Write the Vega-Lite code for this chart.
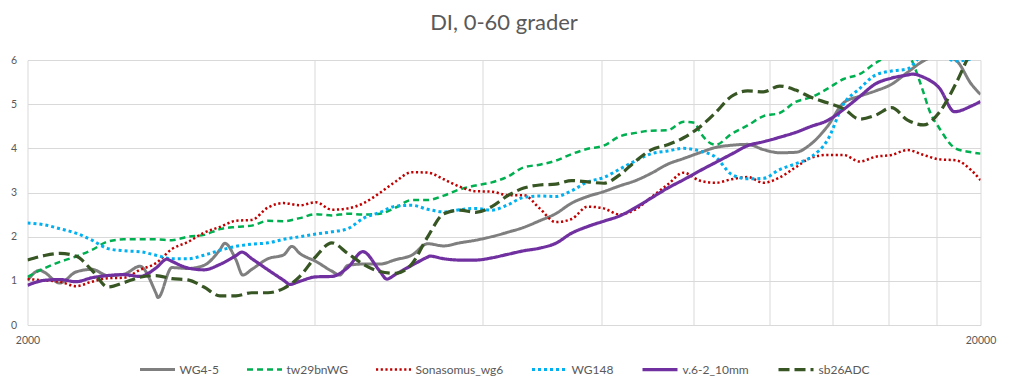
{
  "$schema": "https://vega.github.io/schema/vega-lite/v6.json",
  "width": 953,
  "height": 265,
  "autosize": "none",
  "padding": {"left": 27.5, "top": 60, "right": 31.5, "bottom": 65},
  "background": "white",
  "title": {"text": "DI, 0-60 grader", "font": "Lato", "fontSize": 22, "fontWeight": "normal", "color": "#595959", "anchor": "middle", "baseline": "alphabetic", "offset": 3},
  "config": {
    "view": {"stroke": null},
    "legend": {"layout": {"bottom": {"anchor": "middle"}}}
  },
  "data": {"values": [
    {"s":"WG4-5","f":2000,"v":1.01},{"s":"WG4-5","f":2061,"v":1.24},{"s":"WG4-5","f":2081,"v":1.2},{"s":"WG4-5","f":2163,"v":0.95},{"s":"WG4-5","f":2248,"v":1.2},{"s":"WG4-5","f":2337,"v":1.26},{"s":"WG4-5","f":2429,"v":1.12},{"s":"WG4-5","f":2525,"v":1.15},{"s":"WG4-5","f":2624,"v":1.33},{"s":"WG4-5","f":2728,"v":0.72},{"s":"WG4-5","f":2741,"v":0.62},{"s":"WG4-5","f":2835,"v":1.3},{"s":"WG4-5","f":2947,"v":1.28},{"s":"WG4-5","f":3063,"v":1.35},{"s":"WG4-5","f":3183,"v":1.7},{"s":"WG4-5","f":3222,"v":1.85},{"s":"WG4-5","f":3309,"v":1.48},{"s":"WG4-5","f":3365,"v":1.13},{"s":"WG4-5","f":3439,"v":1.26},{"s":"WG4-5","f":3575,"v":1.5},{"s":"WG4-5","f":3715,"v":1.59},{"s":"WG4-5","f":3788,"v":1.78},{"s":"WG4-5","f":3862,"v":1.62},{"s":"WG4-5","f":4014,"v":1.44},{"s":"WG4-5","f":4172,"v":1.22},{"s":"WG4-5","f":4254,"v":1.13},{"s":"WG4-5","f":4336,"v":1.35},{"s":"WG4-5","f":4507,"v":1.38},{"s":"WG4-5","f":4685,"v":1.38},{"s":"WG4-5","f":4869,"v":1.48},{"s":"WG4-5","f":5061,"v":1.58},{"s":"WG4-5","f":5261,"v":1.84},{"s":"WG4-5","f":5468,"v":1.79},{"s":"WG4-5","f":5683,"v":1.86},{"s":"WG4-5","f":5907,"v":1.92},{"s":"WG4-5","f":6140,"v":2.0},{"s":"WG4-5","f":6382,"v":2.1},{"s":"WG4-5","f":6633,"v":2.21},{"s":"WG4-5","f":6894,"v":2.36},{"s":"WG4-5","f":7166,"v":2.52},{"s":"WG4-5","f":7448,"v":2.76},{"s":"WG4-5","f":7742,"v":2.91},{"s":"WG4-5","f":8047,"v":3.02},{"s":"WG4-5","f":8364,"v":3.15},{"s":"WG4-5","f":8693,"v":3.27},{"s":"WG4-5","f":9036,"v":3.44},{"s":"WG4-5","f":9392,"v":3.64},{"s":"WG4-5","f":9762,"v":3.77},{"s":"WG4-5","f":10146,"v":3.9},{"s":"WG4-5","f":10546,"v":4.02},{"s":"WG4-5","f":10961,"v":4.07},{"s":"WG4-5","f":11393,"v":4.09},{"s":"WG4-5","f":11842,"v":3.97},{"s":"WG4-5","f":12309,"v":3.9},{"s":"WG4-5","f":12793,"v":3.91},{"s":"WG4-5","f":13297,"v":4.11},{"s":"WG4-5","f":13821,"v":4.5},{"s":"WG4-5","f":14366,"v":5.03},{"s":"WG4-5","f":14932,"v":5.18},{"s":"WG4-5","f":15520,"v":5.3},{"s":"WG4-5","f":16131,"v":5.45},{"s":"WG4-5","f":16767,"v":5.72},{"s":"WG4-5","f":17428,"v":5.98},{"s":"WG4-5","f":18114,"v":6.1},{"s":"WG4-5","f":18828,"v":6.0},{"s":"WG4-5","f":19570,"v":5.45},{"s":"WG4-5","f":20000,"v":5.22},

    {"s":"tw29bnWG","f":2000,"v":1.09},{"s":"tw29bnWG","f":2081,"v":1.28},{"s":"tw29bnWG","f":2163,"v":1.43},{"s":"tw29bnWG","f":2248,"v":1.55},{"s":"tw29bnWG","f":2337,"v":1.7},{"s":"tw29bnWG","f":2429,"v":1.89},{"s":"tw29bnWG","f":2525,"v":1.94},{"s":"tw29bnWG","f":2624,"v":1.94},{"s":"tw29bnWG","f":2728,"v":1.94},{"s":"tw29bnWG","f":2835,"v":1.92},{"s":"tw29bnWG","f":2947,"v":2.0},{"s":"tw29bnWG","f":3063,"v":2.04},{"s":"tw29bnWG","f":3183,"v":2.17},{"s":"tw29bnWG","f":3309,"v":2.22},{"s":"tw29bnWG","f":3439,"v":2.25},{"s":"tw29bnWG","f":3575,"v":2.36},{"s":"tw29bnWG","f":3715,"v":2.35},{"s":"tw29bnWG","f":3862,"v":2.42},{"s":"tw29bnWG","f":4014,"v":2.51},{"s":"tw29bnWG","f":4172,"v":2.48},{"s":"tw29bnWG","f":4336,"v":2.52},{"s":"tw29bnWG","f":4507,"v":2.5},{"s":"tw29bnWG","f":4685,"v":2.52},{"s":"tw29bnWG","f":4869,"v":2.66},{"s":"tw29bnWG","f":5061,"v":2.83},{"s":"tw29bnWG","f":5261,"v":2.83},{"s":"tw29bnWG","f":5468,"v":2.93},{"s":"tw29bnWG","f":5683,"v":3.07},{"s":"tw29bnWG","f":5907,"v":3.16},{"s":"tw29bnWG","f":6140,"v":3.23},{"s":"tw29bnWG","f":6382,"v":3.36},{"s":"tw29bnWG","f":6633,"v":3.57},{"s":"tw29bnWG","f":6894,"v":3.63},{"s":"tw29bnWG","f":7166,"v":3.72},{"s":"tw29bnWG","f":7448,"v":3.87},{"s":"tw29bnWG","f":7742,"v":3.99},{"s":"tw29bnWG","f":8047,"v":4.06},{"s":"tw29bnWG","f":8364,"v":4.27},{"s":"tw29bnWG","f":8693,"v":4.35},{"s":"tw29bnWG","f":9036,"v":4.4},{"s":"tw29bnWG","f":9392,"v":4.41},{"s":"tw29bnWG","f":9762,"v":4.6},{"s":"tw29bnWG","f":10025,"v":4.58},{"s":"tw29bnWG","f":10146,"v":4.38},{"s":"tw29bnWG","f":10546,"v":4.08},{"s":"tw29bnWG","f":10961,"v":4.33},{"s":"tw29bnWG","f":11393,"v":4.52},{"s":"tw29bnWG","f":11842,"v":4.73},{"s":"tw29bnWG","f":12309,"v":4.8},{"s":"tw29bnWG","f":12793,"v":5.05},{"s":"tw29bnWG","f":13297,"v":5.16},{"s":"tw29bnWG","f":13821,"v":5.35},{"s":"tw29bnWG","f":14366,"v":5.57},{"s":"tw29bnWG","f":14932,"v":5.68},{"s":"tw29bnWG","f":15520,"v":5.93},{"s":"tw29bnWG","f":16131,"v":6.1},{"s":"tw29bnWG","f":16767,"v":6.1},{"s":"tw29bnWG","f":16930,"v":6.0},{"s":"tw29bnWG","f":17177,"v":5.66},{"s":"tw29bnWG","f":17428,"v":5.26},{"s":"tw29bnWG","f":17682,"v":4.85},{"s":"tw29bnWG","f":18114,"v":4.45},{"s":"tw29bnWG","f":18828,"v":4.0},{"s":"tw29bnWG","f":19570,"v":3.91},{"s":"tw29bnWG","f":20000,"v":3.88},

    {"s":"Sonasomus_wg6","f":2000,"v":1.04},{"s":"Sonasomus_wg6","f":2081,"v":1.01},{"s":"Sonasomus_wg6","f":2163,"v":0.98},{"s":"Sonasomus_wg6","f":2248,"v":0.88},{"s":"Sonasomus_wg6","f":2337,"v":0.98},{"s":"Sonasomus_wg6","f":2429,"v":1.06},{"s":"Sonasomus_wg6","f":2525,"v":1.07},{"s":"Sonasomus_wg6","f":2624,"v":1.25},{"s":"Sonasomus_wg6","f":2728,"v":1.4},{"s":"Sonasomus_wg6","f":2835,"v":1.72},{"s":"Sonasomus_wg6","f":2947,"v":1.88},{"s":"Sonasomus_wg6","f":3063,"v":2.09},{"s":"Sonasomus_wg6","f":3183,"v":2.22},{"s":"Sonasomus_wg6","f":3309,"v":2.36},{"s":"Sonasomus_wg6","f":3439,"v":2.38},{"s":"Sonasomus_wg6","f":3575,"v":2.66},{"s":"Sonasomus_wg6","f":3715,"v":2.76},{"s":"Sonasomus_wg6","f":3862,"v":2.71},{"s":"Sonasomus_wg6","f":4014,"v":2.78},{"s":"Sonasomus_wg6","f":4172,"v":2.61},{"s":"Sonasomus_wg6","f":4336,"v":2.64},{"s":"Sonasomus_wg6","f":4507,"v":2.76},{"s":"Sonasomus_wg6","f":4685,"v":2.99},{"s":"Sonasomus_wg6","f":4869,"v":3.25},{"s":"Sonasomus_wg6","f":5061,"v":3.46},{"s":"Sonasomus_wg6","f":5261,"v":3.45},{"s":"Sonasomus_wg6","f":5468,"v":3.3},{"s":"Sonasomus_wg6","f":5683,"v":3.13},{"s":"Sonasomus_wg6","f":5907,"v":3.03},{"s":"Sonasomus_wg6","f":6140,"v":3.02},{"s":"Sonasomus_wg6","f":6382,"v":2.94},{"s":"Sonasomus_wg6","f":6633,"v":2.94},{"s":"Sonasomus_wg6","f":6894,"v":2.64},{"s":"Sonasomus_wg6","f":7166,"v":2.33},{"s":"Sonasomus_wg6","f":7448,"v":2.4},{"s":"Sonasomus_wg6","f":7742,"v":2.68},{"s":"Sonasomus_wg6","f":8047,"v":2.64},{"s":"Sonasomus_wg6","f":8364,"v":2.5},{"s":"Sonasomus_wg6","f":8693,"v":2.62},{"s":"Sonasomus_wg6","f":9036,"v":2.9},{"s":"Sonasomus_wg6","f":9392,"v":3.18},{"s":"Sonasomus_wg6","f":9762,"v":3.45},{"s":"Sonasomus_wg6","f":10146,"v":3.27},{"s":"Sonasomus_wg6","f":10546,"v":3.22},{"s":"Sonasomus_wg6","f":10961,"v":3.3},{"s":"Sonasomus_wg6","f":11393,"v":3.35},{"s":"Sonasomus_wg6","f":11842,"v":3.22},{"s":"Sonasomus_wg6","f":12309,"v":3.34},{"s":"Sonasomus_wg6","f":12793,"v":3.57},{"s":"Sonasomus_wg6","f":13297,"v":3.79},{"s":"Sonasomus_wg6","f":13821,"v":3.85},{"s":"Sonasomus_wg6","f":14366,"v":3.85},{"s":"Sonasomus_wg6","f":14932,"v":3.7},{"s":"Sonasomus_wg6","f":15520,"v":3.81},{"s":"Sonasomus_wg6","f":16131,"v":3.85},{"s":"Sonasomus_wg6","f":16767,"v":3.96},{"s":"Sonasomus_wg6","f":17428,"v":3.85},{"s":"Sonasomus_wg6","f":18114,"v":3.75},{"s":"Sonasomus_wg6","f":18828,"v":3.73},{"s":"Sonasomus_wg6","f":19570,"v":3.5},{"s":"Sonasomus_wg6","f":20000,"v":3.28},

    {"s":"WG148","f":2000,"v":2.31},{"s":"WG148","f":2081,"v":2.27},{"s":"WG148","f":2163,"v":2.18},{"s":"WG148","f":2248,"v":2.08},{"s":"WG148","f":2337,"v":1.92},{"s":"WG148","f":2429,"v":1.73},{"s":"WG148","f":2525,"v":1.68},{"s":"WG148","f":2624,"v":1.66},{"s":"WG148","f":2728,"v":1.58},{"s":"WG148","f":2835,"v":1.5},{"s":"WG148","f":2947,"v":1.5},{"s":"WG148","f":3063,"v":1.58},{"s":"WG148","f":3183,"v":1.69},{"s":"WG148","f":3309,"v":1.78},{"s":"WG148","f":3439,"v":1.83},{"s":"WG148","f":3575,"v":1.86},{"s":"WG148","f":3715,"v":1.94},{"s":"WG148","f":3862,"v":2.0},{"s":"WG148","f":4014,"v":2.06},{"s":"WG148","f":4172,"v":2.11},{"s":"WG148","f":4336,"v":2.18},{"s":"WG148","f":4507,"v":2.42},{"s":"WG148","f":4685,"v":2.55},{"s":"WG148","f":4869,"v":2.69},{"s":"WG148","f":5061,"v":2.71},{"s":"WG148","f":5261,"v":2.62},{"s":"WG148","f":5468,"v":2.56},{"s":"WG148","f":5683,"v":2.61},{"s":"WG148","f":5907,"v":2.64},{"s":"WG148","f":6140,"v":2.6},{"s":"WG148","f":6382,"v":2.72},{"s":"WG148","f":6633,"v":2.89},{"s":"WG148","f":6894,"v":2.92},{"s":"WG148","f":7166,"v":2.91},{"s":"WG148","f":7448,"v":3.04},{"s":"WG148","f":7742,"v":3.24},{"s":"WG148","f":8047,"v":3.34},{"s":"WG148","f":8364,"v":3.53},{"s":"WG148","f":8693,"v":3.72},{"s":"WG148","f":9036,"v":3.88},{"s":"WG148","f":9392,"v":3.94},{"s":"WG148","f":9762,"v":4.0},{"s":"WG148","f":10146,"v":3.94},{"s":"WG148","f":10546,"v":3.8},{"s":"WG148","f":10961,"v":3.41},{"s":"WG148","f":11393,"v":3.31},{"s":"WG148","f":11842,"v":3.32},{"s":"WG148","f":12309,"v":3.52},{"s":"WG148","f":12793,"v":3.65},{"s":"WG148","f":13297,"v":3.81},{"s":"WG148","f":13821,"v":4.19},{"s":"WG148","f":14366,"v":5.0},{"s":"WG148","f":14932,"v":5.35},{"s":"WG148","f":15520,"v":5.66},{"s":"WG148","f":16131,"v":5.75},{"s":"WG148","f":16767,"v":5.8},{"s":"WG148","f":17428,"v":6.1},{"s":"WG148","f":18114,"v":6.1},{"s":"WG148","f":18828,"v":5.98},{"s":"WG148","f":19570,"v":6.02},{"s":"WG148","f":20000,"v":6.1},

    {"s":"v.6-2_10mm","f":2000,"v":0.9},{"s":"v.6-2_10mm","f":2081,"v":1.01},{"s":"v.6-2_10mm","f":2163,"v":1.03},{"s":"v.6-2_10mm","f":2248,"v":0.98},{"s":"v.6-2_10mm","f":2337,"v":1.07},{"s":"v.6-2_10mm","f":2429,"v":1.12},{"s":"v.6-2_10mm","f":2525,"v":1.14},{"s":"v.6-2_10mm","f":2624,"v":1.1},{"s":"v.6-2_10mm","f":2728,"v":1.29},{"s":"v.6-2_10mm","f":2801,"v":1.49},{"s":"v.6-2_10mm","f":2835,"v":1.44},{"s":"v.6-2_10mm","f":2947,"v":1.29},{"s":"v.6-2_10mm","f":3063,"v":1.25},{"s":"v.6-2_10mm","f":3183,"v":1.37},{"s":"v.6-2_10mm","f":3309,"v":1.57},{"s":"v.6-2_10mm","f":3357,"v":1.65},{"s":"v.6-2_10mm","f":3439,"v":1.5},{"s":"v.6-2_10mm","f":3575,"v":1.25},{"s":"v.6-2_10mm","f":3715,"v":1.01},{"s":"v.6-2_10mm","f":3770,"v":0.92},{"s":"v.6-2_10mm","f":3862,"v":0.99},{"s":"v.6-2_10mm","f":4014,"v":1.09},{"s":"v.6-2_10mm","f":4172,"v":1.1},{"s":"v.6-2_10mm","f":4336,"v":1.3},{"s":"v.6-2_10mm","f":4497,"v":1.66},{"s":"v.6-2_10mm","f":4685,"v":1.22},{"s":"v.6-2_10mm","f":4765,"v":1.04},{"s":"v.6-2_10mm","f":4869,"v":1.15},{"s":"v.6-2_10mm","f":5061,"v":1.35},{"s":"v.6-2_10mm","f":5261,"v":1.54},{"s":"v.6-2_10mm","f":5286,"v":1.56},{"s":"v.6-2_10mm","f":5468,"v":1.5},{"s":"v.6-2_10mm","f":5683,"v":1.47},{"s":"v.6-2_10mm","f":5907,"v":1.47},{"s":"v.6-2_10mm","f":6140,"v":1.52},{"s":"v.6-2_10mm","f":6382,"v":1.6},{"s":"v.6-2_10mm","f":6633,"v":1.68},{"s":"v.6-2_10mm","f":6894,"v":1.74},{"s":"v.6-2_10mm","f":7166,"v":1.85},{"s":"v.6-2_10mm","f":7448,"v":2.08},{"s":"v.6-2_10mm","f":7742,"v":2.23},{"s":"v.6-2_10mm","f":8047,"v":2.35},{"s":"v.6-2_10mm","f":8364,"v":2.47},{"s":"v.6-2_10mm","f":8693,"v":2.66},{"s":"v.6-2_10mm","f":9036,"v":2.88},{"s":"v.6-2_10mm","f":9392,"v":3.1},{"s":"v.6-2_10mm","f":9762,"v":3.29},{"s":"v.6-2_10mm","f":10146,"v":3.49},{"s":"v.6-2_10mm","f":10546,"v":3.68},{"s":"v.6-2_10mm","f":10961,"v":3.87},{"s":"v.6-2_10mm","f":11393,"v":4.06},{"s":"v.6-2_10mm","f":11842,"v":4.15},{"s":"v.6-2_10mm","f":12309,"v":4.25},{"s":"v.6-2_10mm","f":12793,"v":4.36},{"s":"v.6-2_10mm","f":13297,"v":4.5},{"s":"v.6-2_10mm","f":13821,"v":4.63},{"s":"v.6-2_10mm","f":14366,"v":4.88},{"s":"v.6-2_10mm","f":14932,"v":5.17},{"s":"v.6-2_10mm","f":15520,"v":5.46},{"s":"v.6-2_10mm","f":16131,"v":5.59},{"s":"v.6-2_10mm","f":16767,"v":5.66},{"s":"v.6-2_10mm","f":16971,"v":5.68},{"s":"v.6-2_10mm","f":17428,"v":5.61},{"s":"v.6-2_10mm","f":18114,"v":5.36},{"s":"v.6-2_10mm","f":18783,"v":4.83},{"s":"v.6-2_10mm","f":19570,"v":4.96},{"s":"v.6-2_10mm","f":20000,"v":5.06},

    {"s":"sb26ADC","f":2000,"v":1.47},{"s":"sb26ADC","f":2081,"v":1.57},{"s":"sb26ADC","f":2163,"v":1.62},{"s":"sb26ADC","f":2248,"v":1.56},{"s":"sb26ADC","f":2337,"v":1.24},{"s":"sb26ADC","f":2429,"v":0.86},{"s":"sb26ADC","f":2525,"v":0.96},{"s":"sb26ADC","f":2624,"v":1.08},{"s":"sb26ADC","f":2728,"v":1.12},{"s":"sb26ADC","f":2835,"v":1.05},{"s":"sb26ADC","f":2947,"v":1.02},{"s":"sb26ADC","f":3063,"v":0.86},{"s":"sb26ADC","f":3183,"v":0.66},{"s":"sb26ADC","f":3309,"v":0.66},{"s":"sb26ADC","f":3439,"v":0.73},{"s":"sb26ADC","f":3575,"v":0.73},{"s":"sb26ADC","f":3715,"v":0.83},{"s":"sb26ADC","f":3862,"v":1.1},{"s":"sb26ADC","f":4014,"v":1.55},{"s":"sb26ADC","f":4172,"v":1.86},{"s":"sb26ADC","f":4336,"v":1.62},{"s":"sb26ADC","f":4507,"v":1.37},{"s":"sb26ADC","f":4685,"v":1.21},{"s":"sb26ADC","f":4869,"v":1.17},{"s":"sb26ADC","f":5061,"v":1.38},{"s":"sb26ADC","f":5261,"v":2.0},{"s":"sb26ADC","f":5468,"v":2.52},{"s":"sb26ADC","f":5683,"v":2.6},{"s":"sb26ADC","f":5907,"v":2.55},{"s":"sb26ADC","f":6140,"v":2.68},{"s":"sb26ADC","f":6382,"v":2.93},{"s":"sb26ADC","f":6633,"v":3.1},{"s":"sb26ADC","f":6894,"v":3.17},{"s":"sb26ADC","f":7166,"v":3.19},{"s":"sb26ADC","f":7448,"v":3.27},{"s":"sb26ADC","f":7742,"v":3.24},{"s":"sb26ADC","f":8047,"v":3.21},{"s":"sb26ADC","f":8364,"v":3.4},{"s":"sb26ADC","f":8693,"v":3.71},{"s":"sb26ADC","f":9036,"v":3.97},{"s":"sb26ADC","f":9392,"v":4.08},{"s":"sb26ADC","f":9762,"v":4.24},{"s":"sb26ADC","f":10146,"v":4.48},{"s":"sb26ADC","f":10546,"v":4.81},{"s":"sb26ADC","f":10961,"v":5.18},{"s":"sb26ADC","f":11393,"v":5.3},{"s":"sb26ADC","f":11842,"v":5.28},{"s":"sb26ADC","f":12309,"v":5.41},{"s":"sb26ADC","f":12793,"v":5.32},{"s":"sb26ADC","f":13297,"v":5.15},{"s":"sb26ADC","f":13821,"v":5.03},{"s":"sb26ADC","f":14366,"v":4.9},{"s":"sb26ADC","f":14932,"v":4.66},{"s":"sb26ADC","f":15520,"v":4.75},{"s":"sb26ADC","f":16131,"v":4.92},{"s":"sb26ADC","f":16767,"v":4.64},{"s":"sb26ADC","f":17428,"v":4.53},{"s":"sb26ADC","f":18114,"v":4.82},{"s":"sb26ADC","f":18828,"v":5.45},{"s":"sb26ADC","f":19570,"v":6.2},{"s":"sb26ADC","f":20000,"v":6.5}
  ]},
  "mark": {"type": "line", "clip": true, "interpolate": "monotone"},
  "encoding": {
    "x": {"field": "f", "type": "quantitative",
      "scale": {"type": "log", "domain": [2000, 20000], "nice": false},
      "axis": {"title": null, "values": [2000,4000,6000,8000,10000,12000,14000,16000,18000,20000],
        "labelExpr": "datum.value == 2000 || datum.value == 20000 ? '' + datum.value : ''",
        "ticks": false, "domain": false, "grid": true, "gridColor": "#D9D9D9", "gridWidth": 1,
        "labelColor": "#595959", "labelFont": "Lato", "labelFontSize": 10.5, "labelPadding": 10,
        "labelFlush": false, "labelOverlap": false, "labelBound": false}},
    "y": {"field": "v", "type": "quantitative",
      "scale": {"domain": [0, 6], "nice": false, "zero": true},
      "axis": {"title": null, "values": [0,1,2,3,4,5,6], "format": "d",
        "ticks": false, "domain": false, "grid": true, "gridColor": "#D9D9D9", "gridWidth": 1,
        "labelColor": "#595959", "labelFont": "Lato", "labelFontSize": 10.5, "labelPadding": 11}},
    "color": {"field": "s", "type": "nominal",
      "scale": {"domain": ["WG4-5","tw29bnWG","Sonasomus_wg6","WG148","v.6-2_10mm","sb26ADC"],
        "range": ["#7F7F7F","#00B050","#C00000","#00B0F0","#7030A0","#375623"]},
      "legend": {"title": null, "orient": "bottom", "direction": "horizontal", "symbolType": "stroke",
        "symbolSize": 1225, "labelFont": "Lato", "labelFontSize": 12, "labelColor": "#595959",
        "labelOffset": 3, "columnPadding": 22, "offset": 4}},
    "strokeDash": {"field": "s", "type": "nominal",
      "scale": {"domain": ["WG4-5","tw29bnWG","Sonasomus_wg6","WG148","v.6-2_10mm","sb26ADC"],
        "range": [[1,0],[6,4],[2.2,2.5],[3,3],[1,0],[11,5]]},
      "legend": {"title": null, "orient": "bottom", "direction": "horizontal", "symbolType": "stroke",
        "symbolSize": 1225, "labelFont": "Lato", "labelFontSize": 12, "labelColor": "#595959",
        "labelOffset": 3, "columnPadding": 22, "offset": 4}},
    "strokeWidth": {"field": "s", "type": "nominal",
      "scale": {"type": "ordinal", "domain": ["WG4-5","tw29bnWG","Sonasomus_wg6","WG148","v.6-2_10mm","sb26ADC"],
        "range": [3,2.5,2.5,3,3.2,3.2]},
      "legend": {"title": null, "orient": "bottom", "direction": "horizontal", "symbolType": "stroke",
        "symbolSize": 1225, "labelFont": "Lato", "labelFontSize": 12, "labelColor": "#595959",
        "labelOffset": 3, "columnPadding": 22, "offset": 4}}
  }
}
